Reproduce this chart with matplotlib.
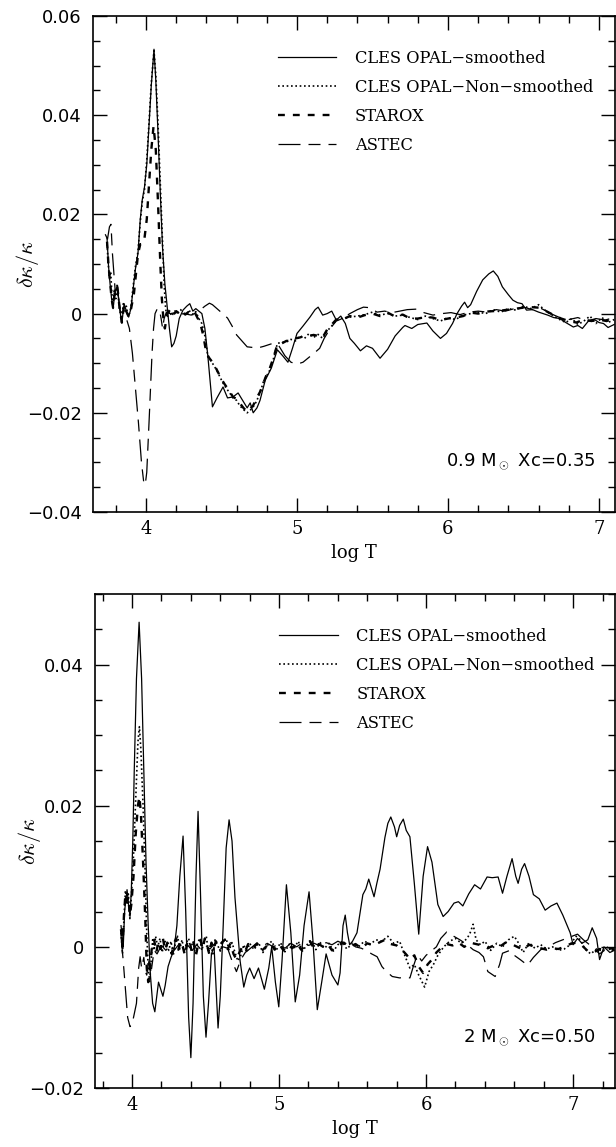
import numpy as np
import matplotlib
matplotlib.use('Agg')
import matplotlib.pyplot as plt
from matplotlib.ticker import MultipleLocator, FuncFormatter

plt.rcParams['mathtext.fontset'] = 'cm'

# ---- data (log T, delta kappa / kappa) ----
LABELS = ['CLES OPAL\u2212smoothed', 'CLES OPAL\u2212Non\u2212smoothed', 'STAROX', 'ASTEC']

# 0.9 Msun, Xc = 0.35
top_cles_smooth = [
    (3.742, 0.0152), (3.752, 0.0095), (3.762, 0.0060), (3.772, 0.0030), (3.782, 0.0010), (3.795, 0.0045),
    (3.81, 0.0055), (3.825, 0.0010), (3.84, -0.0019), (3.855, 0.0020), (3.87, 0.0005), (3.885, -0.0007),
    (3.9, 0.0010), (3.915, 0.0050), (3.93, 0.0090), (3.947, 0.0122), (3.962, 0.0190), (3.975, 0.0229),
    (3.99, 0.0255), (4.005, 0.0300), (4.02, 0.0380), (4.035, 0.0460), (4.053, 0.0533), (4.065, 0.0470),
    (4.08, 0.0360), (4.095, 0.0240), (4.11, 0.0130), (4.125, 0.0060), (4.14, 0.0015), (4.155, -0.0030),
    (4.17, -0.0067), (4.185, -0.0060), (4.2, -0.0045), (4.22, -0.0010), (4.245, 0.0007), (4.27, 0.0015),
    (4.29, 0.0020), (4.31, 0.0005), (4.33, 0.0010), (4.35, 0.0005), (4.37, 0.0000), (4.39, -0.0030),
    (4.41, -0.0087), (4.44, -0.0188), (4.47, -0.0170), (4.51, -0.0148), (4.54, -0.0170), (4.576, -0.0168),
    (4.61, -0.0160), (4.64, -0.0175), (4.67, -0.0190), (4.69, -0.0180), (4.71, -0.0200), (4.735, -0.0190),
    (4.755, -0.0175), (4.79, -0.0134), (4.83, -0.0110), (4.87, -0.0073), (4.905, -0.0085), (4.94, -0.0098),
    (4.97, -0.0070), (5.0, -0.0040), (5.04, -0.0025), (5.086, -0.0007), (5.12, 0.0008), (5.14, 0.0013),
    (5.17, -0.0003), (5.2, 0.0000), (5.23, 0.0005), (5.26, -0.0013), (5.29, -0.0005), (5.32, -0.0020),
    (5.35, -0.0050), (5.38, -0.0060), (5.42, -0.0075), (5.46, -0.0065), (5.5, -0.0070), (5.55, -0.0090),
    (5.6, -0.0072), (5.65, -0.0045), (5.7, -0.0028), (5.715, -0.0024), (5.76, -0.0030), (5.8, -0.0022),
    (5.86, -0.0019), (5.9, -0.0035), (5.95, -0.0050), (5.99, -0.0040), (6.03, -0.0020), (6.06, 0.0000),
    (6.09, 0.0015), (6.11, 0.0023), (6.13, 0.0012), (6.15, 0.0018), (6.19, 0.0045), (6.23, 0.0068),
    (6.27, 0.0080), (6.30, 0.0086), (6.33, 0.0075), (6.36, 0.0054), (6.4, 0.0038), (6.43, 0.0027),
    (6.46, 0.0022), (6.49, 0.0020), (6.52, 0.0007), (6.56, 0.0008), (6.6, 0.0003), (6.66, -0.0003),
    (6.7, -0.0008), (6.74, -0.0010), (6.78, -0.0018), (6.83, -0.0027), (6.86, -0.0024), (6.89, -0.0030),
    (6.93, -0.0015), (6.97, -0.0012), (7.0, -0.0018), (7.03, -0.0020), (7.06, -0.0028), (7.1, -0.0022),
]
top_cles_raw = [
    (3.742, 0.0140), (3.75, 0.0100), (3.758, 0.0070), (3.766, 0.0085), (3.774, 0.0040), (3.782, 0.0015),
    (3.79, 0.0050), (3.80, 0.0030), (3.81, 0.0060), (3.82, 0.0020), (3.83, 0.0000), (3.84, -0.0015),
    (3.85, 0.0020), (3.86, 0.0005), (3.87, 0.0015), (3.88, -0.0005), (3.89, 0.0000), (3.9, 0.0012),
    (3.915, 0.0055), (3.93, 0.0095), (3.947, 0.0125), (3.962, 0.0185), (3.975, 0.0225), (3.99, 0.0250),
    (4.005, 0.0310), (4.02, 0.0385), (4.035, 0.0465), (4.053, 0.0530), (4.065, 0.0480), (4.08, 0.0380),
    (4.095, 0.0260), (4.11, 0.0140), (4.12, 0.0060), (4.13, 0.0010), (4.14, -0.0008), (4.155, 0.0005),
    (4.17, -0.0005), (4.19, 0.0005), (4.21, 0.0000), (4.23, 0.0008), (4.25, -0.0003), (4.27, 0.0000),
    (4.29, 0.0005), (4.31, -0.0002), (4.33, 0.0004), (4.35, -0.0010), (4.37, -0.0020), (4.39, -0.0045),
    (4.41, -0.0087), (4.43, -0.0095), (4.45, -0.0105), (4.47, -0.0115), (4.49, -0.0128), (4.51, -0.0140),
    (4.53, -0.0150), (4.55, -0.0158), (4.576, -0.0170), (4.60, -0.0175), (4.62, -0.0185), (4.64, -0.0192),
    (4.67, -0.0200), (4.69, -0.0195), (4.71, -0.0188), (4.73, -0.0178), (4.755, -0.0160), (4.78, -0.0135),
    (4.80, -0.0125), (4.82, -0.0114), (4.845, -0.0090), (4.87, -0.0060), (4.90, -0.0058), (4.93, -0.0057),
    (4.96, -0.0052), (4.99, -0.0055), (5.02, -0.0045), (5.05, -0.0050), (5.08, -0.0040), (5.11, -0.0048),
    (5.14, -0.0042), (5.17, -0.0050), (5.2, -0.0035), (5.23, -0.0025), (5.26, -0.0013), (5.3, -0.0010),
    (5.35, -0.0007), (5.4, -0.0005), (5.45, -0.0002), (5.5, 0.0003), (5.55, -0.0003), (5.6, 0.0000),
    (5.65, -0.0005), (5.7, -0.0003), (5.75, -0.0008), (5.8, -0.0012), (5.85, -0.0005), (5.9, -0.0010),
    (5.95, -0.0015), (6.0, -0.0008), (6.05, -0.0012), (6.1, -0.0003), (6.15, 0.0000), (6.2, 0.0003),
    (6.25, 0.0000), (6.3, 0.0008), (6.35, 0.0003), (6.4, 0.0010), (6.45, 0.0007), (6.5, 0.0015),
    (6.55, 0.0010), (6.6, 0.0018), (6.63, 0.0010), (6.66, 0.0003), (6.7, -0.0005), (6.74, -0.0012),
    (6.78, -0.0018), (6.82, -0.0010), (6.86, -0.0022), (6.9, -0.0015), (6.94, -0.0005), (6.98, -0.0020),
    (7.02, -0.0008), (7.06, -0.0018), (7.1, -0.0012),
]
top_starox = [
    (3.742, 0.0145), (3.752, 0.0095), (3.762, 0.0065), (3.772, 0.0030), (3.782, 0.0012), (3.795, 0.0048),
    (3.81, 0.0055), (3.825, 0.0012), (3.84, -0.0018), (3.855, 0.0018), (3.87, 0.0004), (3.885, -0.0006),
    (3.9, 0.0008), (3.92, 0.0040), (3.947, 0.0120), (3.962, 0.0140), (3.975, 0.0140), (3.99, 0.0152),
    (4.005, 0.0190), (4.02, 0.0260), (4.035, 0.0330), (4.05, 0.0378), (4.065, 0.0330), (4.08, 0.0220),
    (4.095, 0.0100), (4.105, 0.0030), (4.115, -0.0010), (4.125, -0.0030), (4.14, 0.0000), (4.16, 0.0008),
    (4.18, -0.0003), (4.2, 0.0005), (4.22, 0.0000), (4.24, 0.0006), (4.26, -0.0002), (4.28, 0.0003),
    (4.30, 0.0000), (4.32, 0.0004), (4.34, -0.0008), (4.36, -0.0020), (4.38, -0.0045), (4.40, -0.0080),
    (4.42, -0.0090), (4.44, -0.0098), (4.46, -0.0108), (4.48, -0.0120), (4.50, -0.0132), (4.52, -0.0142),
    (4.55, -0.0155), (4.576, -0.0168), (4.60, -0.0172), (4.62, -0.0180), (4.645, -0.0190), (4.67, -0.0198),
    (4.69, -0.0192), (4.71, -0.0185), (4.73, -0.0172), (4.755, -0.0158), (4.78, -0.0138), (4.80, -0.0122),
    (4.82, -0.0110), (4.845, -0.0088), (4.87, -0.0062), (4.90, -0.0060), (4.93, -0.0055), (4.96, -0.0055),
    (4.99, -0.0050), (5.02, -0.0048), (5.05, -0.0045), (5.08, -0.0045), (5.11, -0.0043), (5.14, -0.0045),
    (5.17, -0.0048), (5.2, -0.0032), (5.23, -0.0022), (5.26, -0.0012), (5.3, -0.0012), (5.35, -0.0005),
    (5.4, -0.0008), (5.45, -0.0003), (5.5, 0.0000), (5.55, -0.0005), (5.6, 0.0002), (5.65, -0.0006),
    (5.7, -0.0002), (5.75, -0.0010), (5.8, -0.0010), (5.85, -0.0007), (5.9, -0.0008), (5.95, -0.0013),
    (6.0, -0.0010), (6.05, -0.0008), (6.1, -0.0005), (6.15, 0.0002), (6.2, 0.0000), (6.25, 0.0004),
    (6.3, 0.0005), (6.35, 0.0006), (6.4, 0.0008), (6.45, 0.0010), (6.5, 0.0012), (6.55, 0.0013),
    (6.6, 0.0012), (6.65, 0.0005), (6.7, -0.0003), (6.75, -0.0010), (6.8, -0.0015), (6.85, -0.0018),
    (6.9, -0.0012), (6.95, -0.0015), (7.0, -0.0012), (7.05, -0.0015), (7.1, -0.0010),
]
top_astec = [
    (3.73, 0.0160), (3.745, 0.0150), (3.758, 0.0175), (3.768, 0.0180), (3.778, 0.0120), (3.79, 0.0070),
    (3.80, 0.0030), (3.815, 0.0040), (3.83, 0.0005), (3.85, 0.0000), (3.87, -0.0010), (3.89, -0.0030),
    (3.91, -0.0080), (3.93, -0.0150), (3.95, -0.0220), (3.97, -0.0300), (3.985, -0.0340), (3.995, -0.0345),
    (4.005, -0.0320), (4.02, -0.0220), (4.03, -0.0150), (4.04, -0.0080), (4.05, -0.0030), (4.06, 0.0000),
    (4.075, 0.0010), (4.09, 0.0007), (4.10, -0.0010), (4.11, -0.0030), (4.12, -0.0010), (4.135, 0.0003),
    (4.16, 0.0000), (4.2, 0.0002), (4.25, 0.0000), (4.3, -0.0003), (4.35, 0.0005), (4.39, 0.0015),
    (4.42, 0.0021), (4.44, 0.0018), (4.47, 0.0010), (4.50, 0.0002), (4.54, -0.0009), (4.57, -0.0025),
    (4.60, -0.0043), (4.635, -0.0055), (4.67, -0.0067), (4.70, -0.0068), (4.73, -0.0070), (4.78, -0.0066),
    (4.84, -0.0060), (4.88, -0.0065), (4.92, -0.0085), (4.96, -0.0098), (5.0, -0.0102), (5.04, -0.0098),
    (5.08, -0.0088), (5.12, -0.0078), (5.15, -0.0070), (5.18, -0.0050), (5.22, -0.0030), (5.26, -0.0015),
    (5.3, -0.0010), (5.35, 0.0000), (5.4, 0.0008), (5.44, 0.0013), (5.48, 0.0012), (5.53, 0.0003),
    (5.58, 0.0005), (5.63, 0.0002), (5.68, 0.0005), (5.73, 0.0008), (5.79, 0.0009), (5.84, 0.0002),
    (5.9, -0.0003), (5.96, 0.0000), (6.02, 0.0002), (6.08, -0.0002), (6.14, 0.0003), (6.2, 0.0005),
    (6.26, 0.0003), (6.32, 0.0008), (6.38, 0.0005), (6.44, 0.0010), (6.5, 0.0013), (6.56, 0.0008),
    (6.62, 0.0010), (6.68, 0.0000), (6.74, -0.0008), (6.8, -0.0012), (6.86, -0.0008), (6.92, -0.0015),
    (6.98, -0.0010), (7.04, -0.0013), (7.1, -0.0008),
]

# 2 Msun, Xc = 0.50
bot_cles_smooth = [
    (3.925, 0.0030), (3.94, 0.0000), (3.95, 0.0052), (3.966, 0.0081), (3.976, 0.0060), (3.986, 0.0043),
    (3.995, 0.0080), (4.005, 0.0150), (4.015, 0.0250), (4.03, 0.0380), (4.048, 0.0460), (4.065, 0.0380),
    (4.08, 0.0250), (4.095, 0.0120), (4.11, 0.0030), (4.125, -0.0040), (4.14, -0.0080), (4.155, -0.0092),
    (4.168, -0.0070), (4.18, -0.0050), (4.195, -0.0060), (4.21, -0.0070), (4.225, -0.0055), (4.245, -0.0028),
    (4.265, -0.0015), (4.285, -0.0005), (4.305, 0.0030), (4.325, 0.0100), (4.347, 0.0157), (4.365, 0.0050),
    (4.385, -0.0100), (4.40, -0.0157), (4.415, -0.0080), (4.435, 0.0100), (4.449, 0.0192), (4.465, 0.0080),
    (4.485, -0.0070), (4.503, -0.0128), (4.52, -0.0080), (4.54, -0.0010), (4.558, 0.0000), (4.572, -0.0060),
    (4.585, -0.0115), (4.60, -0.0070), (4.62, 0.0030), (4.64, 0.0140), (4.66, 0.0180), (4.68, 0.0150),
    (4.70, 0.0070), (4.714, 0.0034), (4.735, -0.0020), (4.76, -0.0057), (4.78, -0.0040), (4.80, -0.0030),
    (4.83, -0.0045), (4.86, -0.0030), (4.90, -0.0060), (4.93, -0.0030), (4.95, 0.0000), (4.975, -0.0050),
    (4.998, -0.0085), (5.02, -0.0020), (5.05, 0.0088), (5.08, 0.0020), (5.11, -0.0078), (5.14, -0.0040),
    (5.17, 0.0030), (5.204, 0.0078), (5.23, 0.0010), (5.26, -0.0089), (5.29, -0.0050), (5.32, -0.0010),
    (5.36, -0.0040), (5.40, -0.0054), (5.415, -0.0037), (5.435, 0.0030), (5.45, 0.0045), (5.465, 0.0020),
    (5.48, 0.0003), (5.50, 0.0008), (5.53, 0.0020), (5.57, 0.0074), (5.59, 0.0082), (5.61, 0.0096),
    (5.646, 0.0071), (5.665, 0.0090), (5.687, 0.0110), (5.72, 0.0155), (5.74, 0.0175), (5.76, 0.0184),
    (5.785, 0.0170), (5.80, 0.0156), (5.82, 0.0172), (5.845, 0.0181), (5.865, 0.0165), (5.89, 0.0156),
    (5.92, 0.0090), (5.95, 0.0018), (5.98, 0.0100), (6.01, 0.0142), (6.04, 0.0120), (6.08, 0.0060),
    (6.116, 0.0043), (6.15, 0.0050), (6.19, 0.0062), (6.22, 0.0064), (6.25, 0.0058), (6.29, 0.0075),
    (6.33, 0.0088), (6.37, 0.0082), (6.415, 0.0099), (6.45, 0.0098), (6.49, 0.0099), (6.52, 0.0076),
    (6.55, 0.0100), (6.585, 0.0125), (6.61, 0.0100), (6.626, 0.0090), (6.65, 0.0110), (6.67, 0.0118),
    (6.70, 0.0100), (6.73, 0.0074), (6.77, 0.0068), (6.81, 0.0052), (6.85, 0.0058), (6.89, 0.0062),
    (6.93, 0.0045), (6.98, 0.0020), (7.0, 0.0003), (7.03, 0.0012), (7.06, 0.0005), (7.1, 0.0010),
    (7.13, 0.0027), (7.16, 0.0012), (7.18, -0.0018), (7.21, 0.0000), (7.25, -0.0008), (7.28, -0.0005),
]
bot_cles_raw = [
    (3.925, 0.0020), (3.935, -0.0010), (3.945, 0.0040), (3.955, 0.0080), (3.965, 0.0060), (3.975, 0.0075),
    (3.985, 0.0040), (3.995, 0.0070), (4.01, 0.0130), (4.025, 0.0210), (4.04, 0.0290), (4.05, 0.0312),
    (4.06, 0.0280), (4.075, 0.0200), (4.09, 0.0100), (4.10, 0.0020), (4.11, -0.0030), (4.12, -0.0050),
    (4.13, -0.0020), (4.14, 0.0010), (4.15, -0.0005), (4.16, 0.0015), (4.175, 0.0000), (4.19, 0.0012),
    (4.205, -0.0008), (4.22, 0.0010), (4.235, 0.0003), (4.25, -0.0005), (4.265, 0.0008), (4.28, -0.0012),
    (4.295, 0.0005), (4.31, 0.0015), (4.325, -0.0003), (4.34, 0.0010), (4.355, -0.0008), (4.37, 0.0006),
    (4.385, 0.0012), (4.40, -0.0002), (4.415, 0.0008), (4.43, -0.0010), (4.445, 0.0005), (4.46, 0.0012),
    (4.475, -0.0005), (4.49, 0.0008), (4.505, 0.0015), (4.52, -0.0008), (4.535, 0.0004), (4.55, -0.0010),
    (4.565, 0.0010), (4.58, 0.0003), (4.60, -0.0006), (4.62, 0.0008), (4.64, 0.0012), (4.66, -0.0005),
    (4.68, 0.0006), (4.70, -0.0008), (4.72, -0.0020), (4.74, -0.0012), (4.76, 0.0003), (4.78, -0.0008),
    (4.80, 0.0005), (4.83, -0.0004), (4.86, 0.0006), (4.89, -0.0008), (4.92, 0.0002), (4.95, 0.0008),
    (4.98, -0.0005), (5.01, 0.0006), (5.04, -0.0007), (5.07, 0.0004), (5.10, -0.0003), (5.13, 0.0008),
    (5.16, -0.0006), (5.19, 0.0003), (5.22, 0.0010), (5.25, -0.0004), (5.28, 0.0006), (5.31, -0.0002),
    (5.34, 0.0005), (5.37, -0.0006), (5.40, 0.0003), (5.43, 0.0008), (5.46, -0.0003), (5.5, 0.0005),
    (5.54, 0.0000), (5.58, 0.0008), (5.62, 0.0004), (5.66, 0.0010), (5.70, 0.0008), (5.74, 0.0015),
    (5.78, 0.0005), (5.82, 0.0008), (5.86, -0.0015), (5.89, -0.0030), (5.92, -0.0025), (5.95, -0.0040),
    (5.99, -0.0057), (6.02, -0.0035), (6.05, -0.0025), (6.08, -0.0012), (6.12, 0.0000), (6.16, 0.0008),
    (6.2, 0.0012), (6.24, 0.0005), (6.28, 0.0012), (6.30, 0.0020), (6.32, 0.0032), (6.34, 0.0010),
    (6.37, 0.0003), (6.4, 0.0008), (6.44, -0.0005), (6.48, 0.0005), (6.52, 0.0000), (6.56, 0.0010),
    (6.6, 0.0015), (6.63, 0.0005), (6.66, -0.0008), (6.7, 0.0006), (6.74, -0.0002), (6.78, 0.0003),
    (6.82, -0.0003), (6.86, 0.0000), (6.9, -0.0005), (6.94, -0.0003), (6.98, 0.0003), (7.02, 0.0015),
    (7.05, 0.0010), (7.08, -0.0003), (7.12, -0.0010), (7.16, -0.0003), (7.2, -0.0006), (7.24, 0.0000),
    (7.28, -0.0004),
]
bot_starox = [
    (3.925, 0.0025), (3.935, 0.0000), (3.945, 0.0045), (3.955, 0.0075), (3.965, 0.0065), (3.975, 0.0070),
    (3.985, 0.0045), (3.995, 0.0060), (4.01, 0.0100), (4.025, 0.0160), (4.04, 0.0200), (4.05, 0.0213),
    (4.06, 0.0190), (4.075, 0.0120), (4.09, 0.0040), (4.10, -0.0030), (4.11, -0.0050), (4.12, -0.0035),
    (4.135, 0.0000), (4.15, 0.0010), (4.165, -0.0008), (4.18, 0.0008), (4.195, -0.0003), (4.21, 0.0012),
    (4.225, -0.0005), (4.24, 0.0006), (4.255, 0.0000), (4.27, -0.0010), (4.285, 0.0005), (4.30, 0.0012),
    (4.315, -0.0004), (4.33, 0.0008), (4.345, 0.0000), (4.36, -0.0012), (4.375, 0.0005), (4.39, 0.0010),
    (4.405, -0.0006), (4.42, 0.0006), (4.435, -0.0012), (4.45, 0.0004), (4.465, 0.0010), (4.48, -0.0003),
    (4.495, 0.0012), (4.51, 0.0002), (4.525, -0.0010), (4.54, 0.0006), (4.555, -0.0004), (4.57, 0.0008),
    (4.59, 0.0000), (4.61, 0.0006), (4.63, 0.0010), (4.65, -0.0003), (4.67, 0.0005), (4.69, -0.0010),
    (4.71, -0.0018), (4.73, -0.0008), (4.75, 0.0000), (4.77, -0.0006), (4.79, 0.0004), (4.82, -0.0003),
    (4.85, 0.0005), (4.88, -0.0006), (4.91, 0.0000), (4.94, 0.0006), (4.97, -0.0004), (5.0, 0.0004),
    (5.03, -0.0005), (5.06, 0.0003), (5.09, -0.0002), (5.12, 0.0006), (5.15, -0.0004), (5.18, 0.0002),
    (5.21, 0.0008), (5.24, -0.0003), (5.27, 0.0004), (5.30, 0.0000), (5.33, 0.0004), (5.36, -0.0005),
    (5.40, 0.0002), (5.44, 0.0006), (5.48, 0.0000), (5.52, 0.0004), (5.56, -0.0002), (5.6, 0.0005),
    (5.64, 0.0002), (5.68, 0.0006), (5.72, 0.0010), (5.76, 0.0004), (5.80, 0.0002), (5.84, -0.0005),
    (5.87, -0.0012), (5.89, -0.0018), (5.92, -0.0012), (5.95, -0.0028), (5.98, -0.0037), (6.01, -0.0025),
    (6.04, -0.0018), (6.07, -0.0008), (6.1, -0.0002), (6.14, 0.0004), (6.18, 0.0002), (6.22, 0.0006),
    (6.26, 0.0000), (6.3, 0.0006), (6.34, 0.0004), (6.38, 0.0002), (6.42, -0.0002), (6.46, 0.0002),
    (6.5, 0.0000), (6.54, 0.0006), (6.58, 0.0004), (6.62, 0.0000), (6.66, -0.0004), (6.7, 0.0003),
    (6.74, 0.0000), (6.78, -0.0002), (6.82, -0.0004), (6.86, -0.0002), (6.9, -0.0003), (6.94, 0.0000),
    (6.98, 0.0004), (7.02, 0.0006), (7.06, 0.0002), (7.1, -0.0006), (7.14, -0.0008), (7.18, -0.0003),
    (7.22, -0.0005), (7.26, -0.0002), (7.28, -0.0004),
]
bot_astec = [
    (3.925, 0.0015), (3.94, -0.0020), (3.955, -0.0060), (3.97, -0.0100), (3.986, -0.0113), (4.0, -0.0110),
    (4.015, -0.0095), (4.03, -0.0080), (4.045, -0.0030), (4.055, -0.0014), (4.065, -0.0030), (4.08, -0.0015),
    (4.09, -0.0035), (4.10, -0.0040), (4.115, -0.0020), (4.13, -0.0035), (4.15, -0.0005), (4.17, -0.0010),
    (4.2, 0.0002), (4.23, -0.0005), (4.26, 0.0003), (4.29, -0.0004), (4.32, 0.0004), (4.35, -0.0003),
    (4.38, 0.0002), (4.41, -0.0005), (4.44, 0.0003), (4.47, -0.0004), (4.5, 0.0002), (4.53, -0.0003),
    (4.56, 0.0004), (4.59, -0.0005), (4.62, 0.0000), (4.65, -0.0002), (4.68, -0.0020), (4.71, -0.0035),
    (4.74, -0.0018), (4.77, -0.0008), (4.8, -0.0003), (4.84, 0.0004), (4.88, 0.0000), (4.92, 0.0005),
    (4.96, 0.0000), (5.0, 0.0004), (5.04, -0.0002), (5.08, 0.0005), (5.12, 0.0000), (5.16, 0.0006),
    (5.2, 0.0002), (5.24, 0.0005), (5.28, 0.0001), (5.32, 0.0006), (5.36, 0.0003), (5.4, 0.0008),
    (5.44, 0.0004), (5.48, 0.0006), (5.52, 0.0000), (5.56, -0.0002), (5.6, -0.0006), (5.63, -0.0010),
    (5.667, -0.0014), (5.7, -0.0028), (5.73, -0.0035), (5.77, -0.0042), (5.82, -0.0044), (5.86, -0.0043),
    (5.89, -0.0044), (5.91, -0.0030), (5.94, -0.0011), (5.97, -0.0020), (6.0, -0.0012), (6.04, -0.0005),
    (6.07, 0.0000), (6.1, 0.0012), (6.14, 0.0021), (6.18, 0.0016), (6.23, 0.0010), (6.28, 0.0003),
    (6.32, -0.0004), (6.36, -0.0008), (6.39, -0.0014), (6.42, -0.0035), (6.47, -0.0042), (6.5, -0.0025),
    (6.52, -0.0009), (6.57, -0.0005), (6.6, -0.0012), (6.64, -0.0018), (6.69, -0.0026), (6.73, -0.0015),
    (6.78, -0.0004), (6.83, 0.0000), (6.88, 0.0006), (6.93, 0.0010), (6.98, 0.0014), (7.03, 0.0018),
    (7.07, 0.0010), (7.1, 0.0005), (7.14, -0.0002), (7.18, -0.0010), (7.22, -0.0004), (7.26, -0.0006),
    (7.28, -0.0003),
]

TOP_NOTE = '0.9 M$_\\odot$ Xc=0.35'
BOT_NOTE = '2 M$_\\odot$ Xc=0.50'
X_TICKS = [4, 5, 6, 7]
TOP_YTICKS = [-0.04, -0.02, 0.0, 0.02, 0.04, 0.06]
BOT_YTICKS = [-0.02, 0.0, 0.02, 0.04]

# line styles: smoothed, non-smoothed, starox, astec
STYLES = [
    dict(ls='-', lw=0.9),
    dict(ls=(0, (1, 1.6)), lw=1.2),
    dict(ls=(0, (2.9, 3.4)), lw=1.7),
    dict(ls=(0, (17.6, 6.4, 9.6, 6.4)), lw=0.9),
]

W, H = 616, 1147
fig = plt.figure(figsize=(W / 100, H / 100), dpi=100)
ax1 = fig.add_axes([93 / W, 1 - 512 / H, 522 / W, 496 / H])
ax2 = fig.add_axes([95 / W, 1 - 1088 / H, 520 / W, 494 / H])


def yfmt(v, pos):
    if abs(v) < 1e-9:
        return '0'
    return ('%.2f' % v).replace('-', '\u2212')


def draw(ax, series, xlim, ylim, yticks, note):
    # draw back to front so the solid line sits on top
    for i in [3, 2, 1, 0]:
        arr = np.array(series[i])
        ax.plot(arr[:, 0], arr[:, 1], color='black', label=LABELS[i],
                dash_capstyle='butt', **STYLES[i])
    ax.set_xlim(*xlim)
    ax.set_ylim(*ylim)
    ax.set_xticks(X_TICKS)
    ax.xaxis.set_minor_locator(MultipleLocator(0.2))
    ax.set_yticks(yticks)
    ax.yaxis.set_minor_locator(MultipleLocator(0.005))
    ax.yaxis.set_major_formatter(FuncFormatter(yfmt))
    ax.tick_params(which='both', direction='in', top=True, right=True, width=1.0)
    ax.tick_params(which='major', length=10)
    ax.tick_params(which='minor', length=5)
    ax.tick_params(axis='y', labelsize=13, pad=8)
    ax.tick_params(axis='x', labelsize=13, pad=6)
    for lab in ax.get_xticklabels():
        lab.set_family('DejaVu Serif')
    for sp in ax.spines.values():
        sp.set_linewidth(1.2)
    ax.set_xlabel('log T', family='DejaVu Serif', fontsize=13, labelpad=4)
    ax.set_ylabel(r'$\delta\kappa/\kappa$', fontsize=16)
    ax.yaxis.set_label_coords(-0.10, 0.5)
    h, l = ax.get_legend_handles_labels()
    ax.legend(h[::-1], l[::-1], loc='upper left', bbox_to_anchor=(0.354, 0.932),
              frameon=False, handlelength=3.6, handletextpad=1.15, labelspacing=0.74,
              borderpad=0, borderaxespad=0,
              prop=dict(family='DejaVu Serif', size=11.7))
    ax.text(0.963, 0.101, note, transform=ax.transAxes, ha='right', va='center',
            fontsize=13)


draw(ax1, [top_cles_smooth, top_cles_raw, top_starox, top_astec],
     (3.649, 7.106), (-0.04, 0.06), TOP_YTICKS, TOP_NOTE)
draw(ax2, [bot_cles_smooth, bot_cles_raw, bot_starox, bot_astec],
     (3.748, 7.285), (-0.02, 0.05), BOT_YTICKS, BOT_NOTE)

fig.savefig('out.png', dpi=100, facecolor='white')
